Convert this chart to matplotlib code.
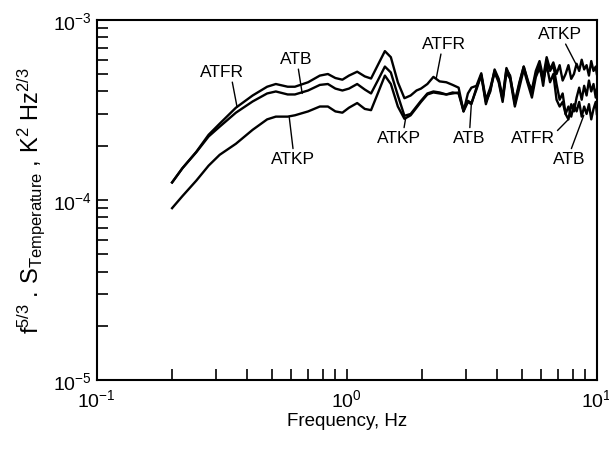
"""
Temperature spectra f^(5/3) * S_T for three sensors (ATFR, ATB, ATKP)
"""
import numpy as np
import matplotlib
matplotlib.use("Agg")
import matplotlib.pyplot as plt
from matplotlib.ticker import LogLocator, NullFormatter

plt.rcParams["font.family"] = ["Liberation Sans", "DejaVu Sans"]
plt.rcParams["mathtext.fontset"] = "custom"
plt.rcParams["mathtext.rm"] = "Liberation Sans"
plt.rcParams["mathtext.it"] = "Liberation Sans"
plt.rcParams["mathtext.bf"] = "Liberation Sans:bold"

# frequency, Hz (shared by all three curves)
freq = [0.20, 0.22, 0.25, 0.28, 0.31, 0.36, 0.42, 0.48, 0.52, 0.58,
        0.62, 0.70, 0.78, 0.84, 0.90, 0.96, 1.02, 1.10, 1.18, 1.25,
        1.33, 1.42, 1.50, 1.60, 1.70, 1.80, 1.90, 1.98, 2.10, 2.22,
        2.35, 2.50, 2.65, 2.80, 2.93, 3.05, 3.15,
        3.30, 3.45, 3.60, 3.75, 3.90, 4.05, 4.20, 4.35, 4.50, 4.70,
        4.90, 5.10, 5.30, 5.50, 5.70, 5.90, 6.10, 6.30, 6.50, 6.70,
        6.90, 7.10, 7.30, 7.50, 7.70, 7.90, 8.10, 8.30, 8.50, 8.70,
        8.90, 9.10, 9.30, 9.50, 9.70, 9.90, 10.0]

# f^5/3 * S, units of 1e-4 K^2 Hz^2/3
atfr = [1.25, 1.50, 1.85, 2.30, 2.65, 3.25, 3.80, 4.25, 4.40, 4.25,
        4.25, 4.50, 4.90, 5.00, 4.75, 4.65, 4.90, 5.15, 4.85, 4.72,
        5.60, 6.70, 6.20, 4.50, 3.67, 3.80, 4.05, 4.15, 4.40, 4.82,
        4.55, 4.50, 4.35, 4.20, 3.10, 3.90, 4.20,
        4.30, 5.05, 3.60, 4.20, 5.20, 4.60, 3.60, 5.30, 4.90, 3.40,
        4.40, 5.50, 4.60, 3.90, 5.00, 5.70, 4.30, 6.00, 5.20, 5.60,
        4.40, 3.60, 3.90, 3.00, 2.80, 3.40, 3.10, 3.70, 4.20, 3.60,
        4.30, 3.80, 4.60, 4.00, 4.40, 3.70, 4.10]

atb = [1.25, 1.50, 1.84, 2.25, 2.55, 3.05, 3.52, 3.90, 4.00, 3.85,
       3.85, 4.05, 4.35, 4.40, 4.15, 4.05, 4.15, 4.40, 4.10, 3.90,
       4.60, 5.50, 5.10, 3.80, 2.93, 3.00, 3.30, 3.55, 3.90, 4.00,
       3.95, 3.85, 3.95, 3.90, 3.10, 3.50, 3.40,
       4.20, 4.90, 3.40, 4.10, 5.10, 4.50, 3.50, 5.10, 4.70, 3.30,
       4.20, 5.30, 4.40, 3.70, 4.80, 5.40, 4.60, 5.60, 4.50, 5.00,
       3.60, 3.30, 3.50, 3.00, 3.30, 2.90, 3.40, 3.10, 3.50, 2.90,
       3.30, 3.00, 3.40, 2.80, 3.20, 3.50, 3.00]

atkp = [0.90, 1.05, 1.28, 1.55, 1.78, 2.05, 2.45, 2.80, 2.90, 2.90,
        2.95, 3.10, 3.30, 3.30, 3.10, 3.05, 3.25, 3.45, 3.20, 3.15,
        3.90, 4.90, 4.40, 3.30, 2.82, 2.95, 3.25, 3.50, 3.85, 3.95,
        3.90, 3.85, 3.90, 3.95, 3.15, 3.55, 3.45,
        4.10, 4.95, 3.50, 4.00, 5.30, 4.70, 3.70, 5.40, 4.80, 3.50,
        4.50, 5.50, 4.50, 4.10, 5.20, 5.90, 4.80, 6.20, 5.30, 5.80,
        5.00, 5.60, 4.60, 5.00, 5.60, 4.70, 5.00, 5.70, 5.20, 6.00,
        5.30, 5.60, 4.90, 5.90, 5.20, 5.50, 5.00]

series = {"ATFR": atfr, "ATB": atb, "ATKP": atkp}

# curve labels: text, label position (f, S), point on curve (f, S), leader start
labels = [
    ("ATFR", (0.317, 5.14e-4), (0.364, 3.27e-4), (0.72, 0.0)),
    ("ATB", (0.628, 6.07e-4), (0.663, 3.90e-4), (0.55, 0.0)),
    ("ATKP", (0.611, 1.69e-4), (0.588, 2.90e-4), (0.50, 1.0)),
    ("ATFR", (2.44, 7.36e-4), (2.28, 4.75e-4), (0.45, 0.0)),
    ("ATKP", (1.62, 2.21e-4), (1.72, 2.85e-4), (0.60, 1.0)),
    ("ATB", (3.10, 2.21e-4), (3.15, 3.45e-4), (0.50, 1.0)),
    ("ATFR", (5.54, 2.21e-4), (7.70, 2.80e-4), (1.00, 0.8)),
    ("ATB", (7.72, 1.69e-4), (8.87, 2.95e-4), (0.55, 1.0)),
    ("ATKP", (7.11, 8.36e-4), (8.24, 5.70e-4), (0.60, 0.0)),
]

fig = plt.figure(figsize=(6.09, 4.52), dpi=100)
ax = fig.add_axes([0.159, 0.157, 0.821, 0.797])

f = np.array(freq)
for name, vals in series.items():
    ax.plot(f, np.array(vals) * 1e-4, color="black", lw=1.7)

for txt, tpos, ppos, rel in labels:
    ax.annotate(txt, xy=ppos, xytext=tpos, ha="center", va="center",
                fontsize=12.5,
                arrowprops=dict(arrowstyle="-", color="black", lw=1.0,
                                shrinkA=0, shrinkB=0, relpos=rel))

ax.set_xscale("log")
ax.set_yscale("log")
ax.set_xlim(0.1, 10)
ax.set_ylim(1e-5, 1e-3)

ax.xaxis.set_major_locator(LogLocator(base=10))
ax.xaxis.set_minor_locator(LogLocator(base=10, subs=np.arange(2, 10)))
ax.yaxis.set_minor_locator(LogLocator(base=10, subs=np.arange(2, 10)))
ax.xaxis.set_minor_formatter(NullFormatter())
ax.yaxis.set_minor_formatter(NullFormatter())
ax.tick_params(which="both", direction="in", top=False, right=False,
               length=8, width=1.2, labelsize=14)
ax.tick_params(axis="x", which="major", pad=6)
for sp in ax.spines.values():
    sp.set_linewidth(1.5)

ax.set_xlabel("Frequency, Hz", fontsize=13.5, labelpad=1)
ax.set_ylabel(r"f$^{5/3}$ . S$_{\mathregular{Temperature}}$ , K$^{2}$ Hz$^{2/3}$",
              fontsize=17, labelpad=4)

fig.savefig("out.png", dpi=100)
